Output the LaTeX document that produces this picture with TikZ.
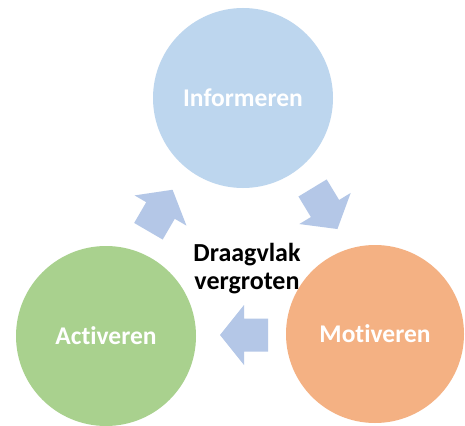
\documentclass[tikz,border=0pt]{standalone}
\usepackage{fontspec}
\setmainfont{Carlito}[Ligatures={NoCommon}]
\definecolor{cblue}{RGB}{189,214,238}
\definecolor{cgreen}{RGB}{169,209,142}
\definecolor{corange}{RGB}{244,177,131}
\definecolor{carrow}{RGB}{180,199,231}
\tikzset{
  bubble/.style={circle, inner sep=0pt, text=white, font=\fontsize{25.5}{28}\selectfont\bfseries},
  blockarrow/.style={fill=carrow, draw=none}
}
\newcommand{\blockarr}[2]{%
  \begin{scope}[shift={#1}, rotate=#2]
    \fill[carrow] (-24pt,-16.5pt) -- (0pt,-16.5pt) -- (0pt,-30pt) -- (24pt,0pt)
      -- (0pt,30pt) -- (0pt,16.5pt) -- (-24pt,16.5pt) -- cycle;
  \end{scope}}
\begin{document}
\begin{tikzpicture}[x=1pt,y=-1pt]
\useasboundingbox[fill=white] (0,0) rectangle (465,425);
\node[bubble, fill=cblue, minimum size=180pt] (inf) at (243,98) {Informeren};
\node[bubble, fill=cgreen, minimum size=180pt] (act) at (106,336) {Activeren};
\node[bubble, fill=corange, minimum size=178pt] (mot) at (375,334) {Motiveren};
\node[font=\fontsize{26}{28}\selectfont\bfseries, align=center, text=black] (ctr) at (247,269) {Draagvlak\\vergroten};
\blockarr{(160.5,210.5)}{59.8}
\blockarr{(325,208.5)}{-58.8}
\blockarr{(244,335)}{180}
\end{tikzpicture}
\end{document}
